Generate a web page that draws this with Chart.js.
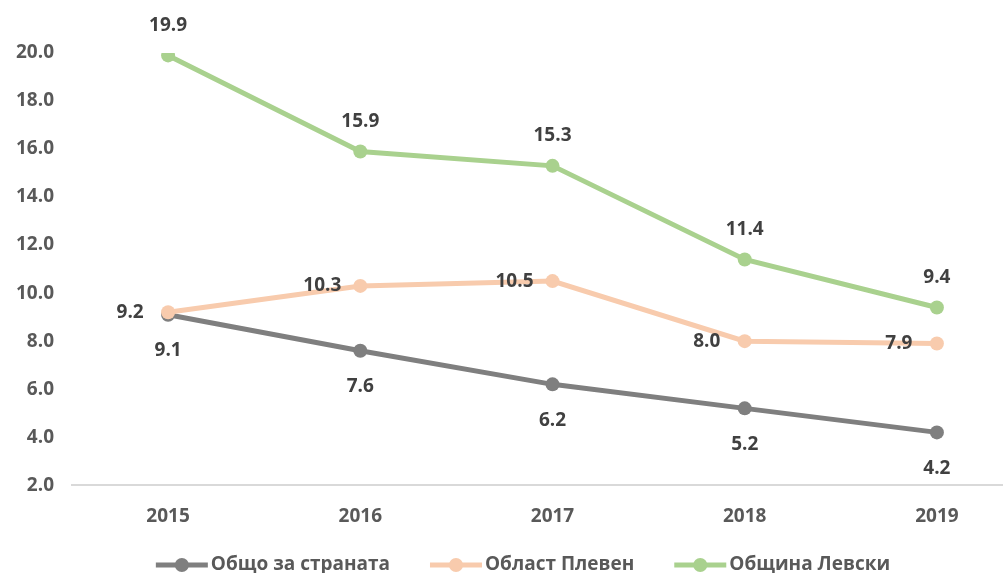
<!DOCTYPE html>
<html>
<head>
<meta charset="utf-8">
<script src="https://cdn.jsdelivr.net/npm/chart.js@4/dist/chart.umd.min.js"></script>
<style>
  html, body { margin: 0; padding: 0; background: #fff; overflow: hidden; }
  #wrap { width: 1040px; height: 592px; }
</style>
</head>
<body>
<div id="wrap"><canvas id="myChart" width="1040" height="592"></canvas></div>
<script>
const years = ['2015', '2016', '2017', '2018', '2019'];
const country = [9.1, 7.6, 6.2, 5.2, 4.2];
const pleven = [9.2, 10.3, 10.5, 8.0, 7.9];
const levski = [19.9, 15.9, 15.3, 11.4, 9.4];
const seriesNames = ['Общо за страната', 'Област Плевен', 'Община Левски'];
const colors = ['#7f7f7f', '#f8cbad', '#a9d18e'];
const labelPos = ['below', 'left', 'above'];

const FONT = '"Open Sans", "DejaVu Sans", sans-serif';

// value labels like Excel data labels
const valueLabels = {
    id: 'valueLabels',
    afterDatasetsDraw(chart) {
        const ctx = chart.ctx;
        ctx.save();
        ctx.font = 'bold 19px ' + FONT;
        ctx.fillStyle = '#404040';
        ctx.textBaseline = 'middle';
        ctx.textAlign = 'center';
        chart.data.datasets.forEach((ds, i) => {
            const meta = chart.getDatasetMeta(i);
            meta.data.forEach((pt, j) => {
                const txt = ds.data[j].toFixed(1);
                let x = pt.x, y = pt.y;
                if (labelPos[i] == 'above') y -= 30;
                if (labelPos[i] == 'below') y += 36;
                if (labelPos[i] == 'left') x -= 38;
                ctx.fillText(txt, x, y);
            });
        });
        ctx.restore();
    }
};

// legend drawn by hand: line + marker, then the name
const lineLegend = {
    id: 'lineLegend',
    afterDraw(chart) {
        const ctx = chart.ctx;
        const iconW = 52, gapText = 3, gapItem = 40;
        ctx.save();
        ctx.font = 'bold 19px ' + FONT;
        const widths = seriesNames.map(n => ctx.measureText(n).width);
        let total = widths.reduce((a, b) => a + b, 0) + seriesNames.length * (iconW + gapText) + gapItem * (seriesNames.length - 1);
        let x = 523 - total / 2;
        const y = 565;
        seriesNames.forEach((name, i) => {
            ctx.strokeStyle = colors[i];
            ctx.lineWidth = 5;
            ctx.beginPath();
            ctx.moveTo(x, y);
            ctx.lineTo(x + iconW, y);
            ctx.stroke();
            ctx.fillStyle = colors[i];
            ctx.beginPath();
            ctx.arc(x + iconW / 2, y, 7, 0, Math.PI * 2);
            ctx.fill();
            x += iconW + gapText;
            ctx.fillStyle = '#595959';
            ctx.textBaseline = 'middle';
            ctx.textAlign = 'left';
            ctx.fillText(name, x, y);
            x += widths[i] + gapItem;
        });
        ctx.restore();
    }
};

const datasets = [country, pleven, levski].map((vals, i) => ({
    label: seriesNames[i],
    data: vals,
    borderColor: colors[i],
    backgroundColor: colors[i],
    borderWidth: 5,
    pointRadius: 7,
    pointHoverRadius: 7,
    pointBackgroundColor: colors[i],
    pointBorderColor: colors[i],
    pointBorderWidth: 0,
    tension: 0,
    order: [2, 1, 0][i]
}));

const ctx = document.getElementById('myChart').getContext('2d');
const myChart = new Chart(ctx, {
    type: 'line',
    data: { labels: years, datasets: datasets },
    options: {
        responsive: false,
        animation: false,
        layout: { padding: { top: 53, right: 7, left: 0, bottom: 44 } },
        plugins: {
            tooltip: { enabled: false },
            legend: { display: false }
        },
        scales: {
            x: {
                offset: true,
                grid: { display: false, drawTicks: false },
                border: { display: true, color: '#d9d9d9', width: 2 },
                ticks: {
                    padding: 20,
                    color: '#595959',
                    font: { family: FONT, size: 19, weight: 'bold' }
                }
            },
            y: {
                min: 2,
                max: 20,
                afterFit: (scale) => { scale.width = 72; },
                grid: { display: false, drawTicks: false },
                border: { display: false },
                ticks: {
                    stepSize: 2,
                    padding: 18,
                    color: '#595959',
                    font: { family: FONT, size: 19, weight: 'bold' },
                    callback: (v) => Number(v).toFixed(1)
                }
            }
        }
    },
    plugins: [valueLabels, lineLegend]
});
</script>
</body>
</html>
